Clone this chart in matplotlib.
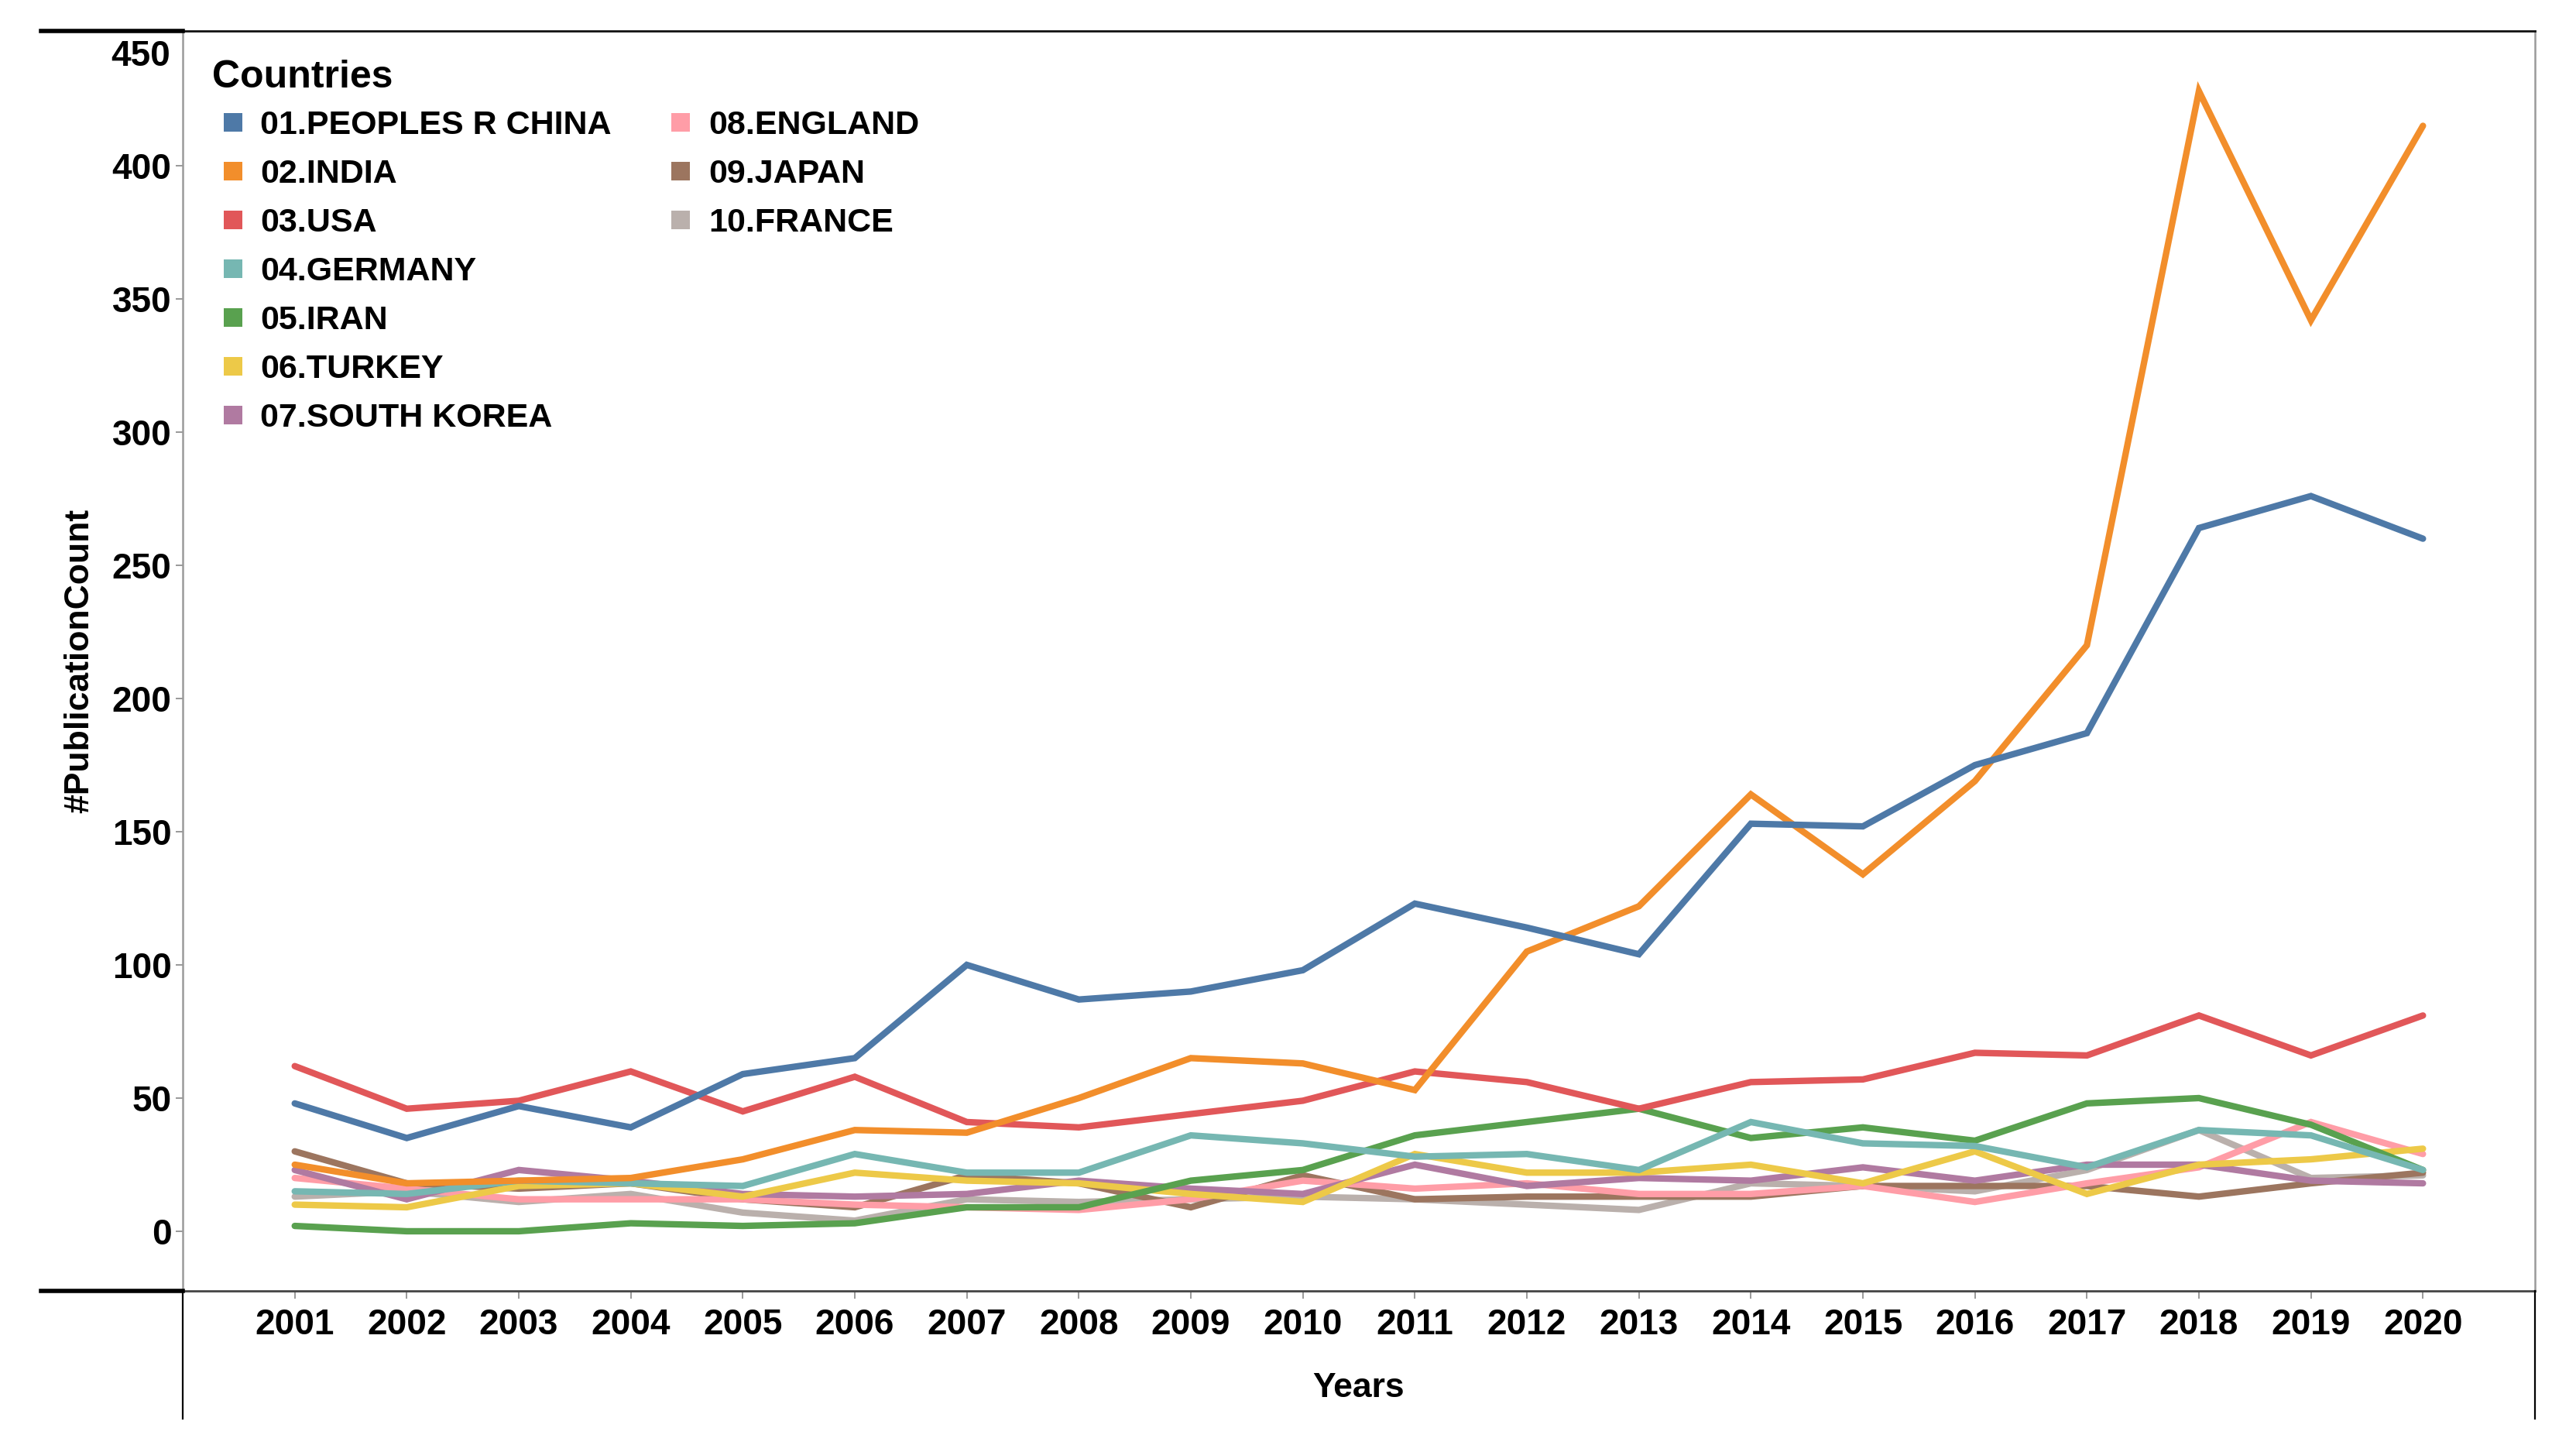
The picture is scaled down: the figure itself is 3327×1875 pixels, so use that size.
"""
Publication count per country, 2001-2020 (Tableau style line chart)
"""
import matplotlib
matplotlib.use('Agg')
import matplotlib.pyplot as plt
from matplotlib.lines import Line2D
from matplotlib.patches import Rectangle

years = list(range(2001, 2021))

countries = ['01.PEOPLES R CHINA', '02.INDIA', '03.USA', '04.GERMANY', '05.IRAN',
             '06.TURKEY', '07.SOUTH KOREA', '08.ENGLAND', '09.JAPAN', '10.FRANCE']

china = [48, 35, 47, 39, 59, 65, 100, 87, 90, 98, 123, 114, 104, 153, 152, 175, 187, 264, 276, 260]
india = [25, 18, 19, 20, 27, 38, 37, 50, 65, 63, 53, 105, 122, 164, 134, 169, 220, 428, 342, 415]
usa = [62, 46, 49, 60, 45, 58, 41, 39, 44, 49, 60, 56, 46, 56, 57, 67, 66, 81, 66, 81]
germany = [15, 14, 19, 18, 17, 29, 22, 22, 36, 33, 28, 29, 23, 41, 33, 32, 24, 38, 36, 23]
iran = [2, 0, 0, 3, 2, 3, 9, 9, 19, 23, 36, 41, 46, 35, 39, 34, 48, 50, 40, 23]
turkey = [10, 9, 17, 18, 13, 22, 19, 18, 14, 11, 29, 22, 22, 25, 18, 30, 14, 25, 27, 31]
korea = [23, 12, 23, 19, 14, 13, 14, 19, 16, 14, 25, 17, 20, 19, 24, 19, 25, 25, 19, 18]
england = [20, 16, 12, 12, 12, 10, 9, 8, 12, 19, 16, 18, 14, 14, 17, 11, 18, 24, 41, 29]
japan = [30, 18, 16, 18, 12, 9, 21, 18, 9, 21, 12, 13, 13, 13, 17, 17, 17, 13, 18, 22]
france = [13, 15, 11, 14, 7, 4, 12, 11, 12, 13, 12, 10, 8, 18, 17, 15, 23, 38, 20, 21]

series = [china, india, usa, germany, iran, turkey, korea, england, japan, france]

colors = ['#4e79a7', '#f28e2b', '#e15759', '#76b7b2', '#59a14f',
          '#edc948', '#b07aa1', '#ff9da7', '#9c755f', '#bab0ac']

y_ticks = list(range(0, 451, 50))

W, H = 3327, 1875
plt.rcParams['font.family'] = ['Liberation Sans', 'DejaVu Sans']
plt.rcParams['font.weight'] = 'bold'


def fx(px):
    return px / W


def fy(py):
    return 1 - py / H


fig = plt.figure(figsize=(W / 200, H / 200), dpi=200)
ax = fig.add_axes([fx(236), fy(1667), fx(3274) - fx(236), fy(40) - fy(1667)])

# lines
for i, (vals, col) in enumerate(zip(series, colors)):
    ax.plot(years, vals, color=col, linewidth=3.0, solid_joinstyle='miter',
            solid_capstyle='round', zorder=20 - i)

ax.set_xlim(2000, 2021)
ax.set_ylim(-22.4, 450.6)
ax.set_xticks(years)
ax.set_xticklabels([str(y) for y in years], fontsize=16.5, fontweight='bold')
ax.set_yticks(y_ticks)
# the top label is drawn separately, pushed below the top edge
ax.set_yticklabels([str(v) if v < 450 else '' for v in y_ticks], fontsize=16.5, fontweight='bold')
ax.annotate('450', xy=(0, 450), xycoords=('axes fraction', 'data'),
            xytext=(-5.6, -3.2), textcoords='offset points',
            ha='right', va='top', fontsize=16.5, fontweight='bold', annotation_clip=False)

ax.tick_params(axis='x', length=3.5, width=0.6, color='#888888', pad=4.5)
ax.tick_params(axis='y', length=3.2, width=0.6, color='#888888', pad=2)
ax.yaxis.get_major_ticks()[-1].tick1line.set_visible(False)

# spines
ax.spines['left'].set_color('#9a9a9a')
ax.spines['left'].set_linewidth(0.9)
ax.spines['right'].set_color('#9a9a9a')
ax.spines['right'].set_linewidth(0.9)
ax.spines['bottom'].set_color('#444444')
ax.spines['bottom'].set_linewidth(1.0)
ax.spines['top'].set_color('#111111')
ax.spines['top'].set_linewidth(1.0)

# header / frame pieces outside the axes
fig.add_artist(Line2D([fx(53), fx(236)], [fy(40), fy(40)], color='black', linewidth=2.0))
fig.add_artist(Line2D([fx(53), fx(236)], [fy(1667), fy(1667)], color='black', linewidth=2.0))
fig.add_artist(Line2D([fx(236), fx(236)], [fy(1667), fy(1832)], color='black', linewidth=0.8))
fig.add_artist(Line2D([fx(3274), fx(3274)], [fy(1667), fy(1832)], color='black', linewidth=0.8))

# axis titles
fig.text(fx(1755), fy(1804), 'Years', ha='center', va='baseline', fontsize=16, fontweight='bold')
fig.text(fx(103), fy(853), '#PublicationCount', ha='center', va='center', rotation=90,
         fontsize=16, fontweight='bold')

# legend drawn by hand (7 rows in first column, 3 in second)
fig.text(fx(274), fy(113), 'Countries', ha='left', va='baseline', fontsize=18, fontweight='bold')
for i, (name, col) in enumerate(zip(countries, colors)):
    row = i if i < 7 else i - 7
    sq_x = 301 if i < 7 else 879
    tx = 336 if i < 7 else 915
    cy = 158 + 63 * row
    fig.add_artist(Rectangle((fx(sq_x - 12), fy(cy + 12)), 24 / W, 24 / H,
                             transform=fig.transFigure, facecolor=col, edgecolor='none'))
    fig.text(fx(tx), fy(cy + 15), name, ha='left', va='baseline', fontsize=15.5, fontweight='bold')

fig.savefig('out.png', dpi=200, facecolor='white')
plt.close(fig)
